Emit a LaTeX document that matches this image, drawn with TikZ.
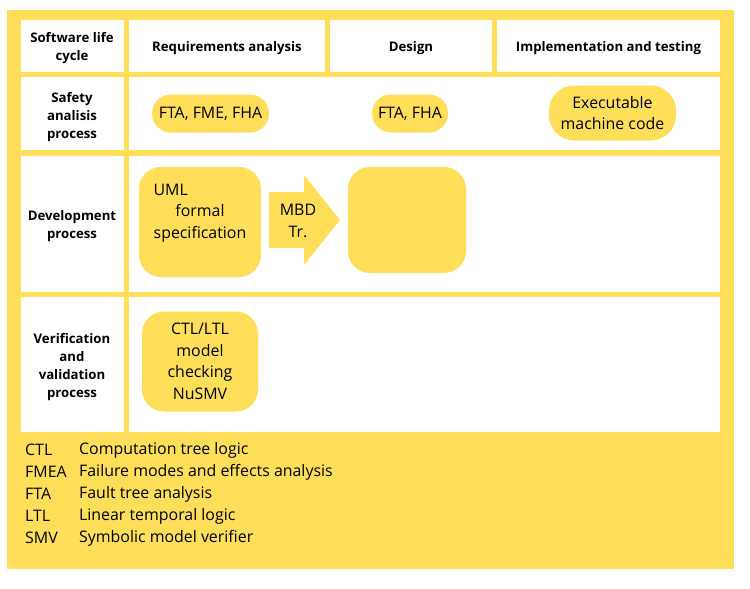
\documentclass[tikz,border=0pt]{standalone}
\usepackage{fontspec}
\setmainfont{Open Sans}
\usepackage{calc}
\definecolor{ylw}{HTML}{FFDE59}
\begin{document}
\begin{tikzpicture}[x=1pt,y=-1pt,
  cell/.style={fill=white,draw=none},
  hdr/.style={font=\bfseries\fontsize{13.2}{18}\selectfont,align=center,text=black},
  txt/.style={font=\fontsize{15.9}{21.5}\selectfont,align=center,text=black},
  pill/.style={fill=ylw,draw=none,inner sep=0pt,txt},
  leg/.style={font=\fontsize{15.9}{22}\selectfont,anchor=west,inner sep=0pt,text=black}]
\useasboundingbox (0,0) rectangle (750,589);
\fill[ylw] (7,10) rectangle (734,569);
% cells
\fill[cell] (21,20) rectangle (124,72);
\fill[cell] (129,20) rectangle (325,72);
\fill[cell] (330,20) rectangle (492,72);
\fill[cell] (497,20) rectangle (720,72);
\fill[cell] (21,77) rectangle (124,150);
\fill[cell] (129,77) rectangle (720,150);
\fill[cell] (21,156) rectangle (124,292);
\fill[cell] (129,156) rectangle (720,292);
\fill[cell] (21,297) rectangle (124,432);
\fill[cell] (129,297) rectangle (720,432);
% headers
\node[hdr] (h1) at (72,48.5) {Software life\\cycle};
\node[hdr] (h2) at (227,48.5) {Requirements analysis};
\node[hdr] (h3) at (411,48.5) {Design};
\node[hdr] (h4) at (608.5,48.5) {Implementation and testing};
\node[hdr] (r1) at (72,117) {Safety\\analisis\\process};
\node[hdr] (r2) at (72,226) {Development\\process};
\node[hdr] (r3) at (72,367) {Verification\\and\\validation\\process};
% pills
\node[pill,minimum width=117pt,minimum height=38pt,rounded corners=19pt] (p1) at (210.5,113.5) {FTA, FME, FHA};
\node[pill,minimum width=76pt,minimum height=38pt,rounded corners=19pt] (p2) at (410,113.5) {FTA, FHA};
\node[pill,minimum width=127pt,minimum height=55pt,rounded corners=25pt] (p3) at (612.5,113) {Executable\\machine code};
\node[pill,minimum width=122pt,minimum height=110pt,rounded corners=22pt] (uml) at (200,222) {};
\node[txt] (umltxt) at (200,213)
  {\makebox[\widthof{specification}][l]{UML}\\formal\\specification};
\node[pill,minimum width=118pt,minimum height=106pt,rounded corners=22pt] (des) at (407,220) {};
\node[pill,minimum width=116pt,minimum height=100pt,rounded corners=22pt] (ctl) at (200,361.5) {CTL/LTL\\model\\checking\\NuSMV};
% arrow
\fill[ylw] (269,192) -- (304,192) -- (304,175) -- (340,220) -- (304,265) -- (304,248) -- (269,248) -- cycle;
\node[txt] (mbd) at (298,221) {MBD\\Tr.};
% legend
\node[leg] (a1) at (25,450) {CTL};
\node[leg] (a2) at (25,472) {FMEA};
\node[leg] (a3) at (25,494) {FTA};
\node[leg] (a4) at (25,516) {LTL};
\node[leg] (a5) at (25,538) {SMV};
\node[leg] (d1) at (79,450) {Computation tree logic};
\node[leg] (d2) at (79,472) {Failure modes and effects analysis};
\node[leg] (d3) at (79,494) {Fault tree analysis};
\node[leg] (d4) at (79,516) {Linear temporal logic};
\node[leg] (d5) at (79,538) {Symbolic model verifier};
\end{tikzpicture}
\end{document}
